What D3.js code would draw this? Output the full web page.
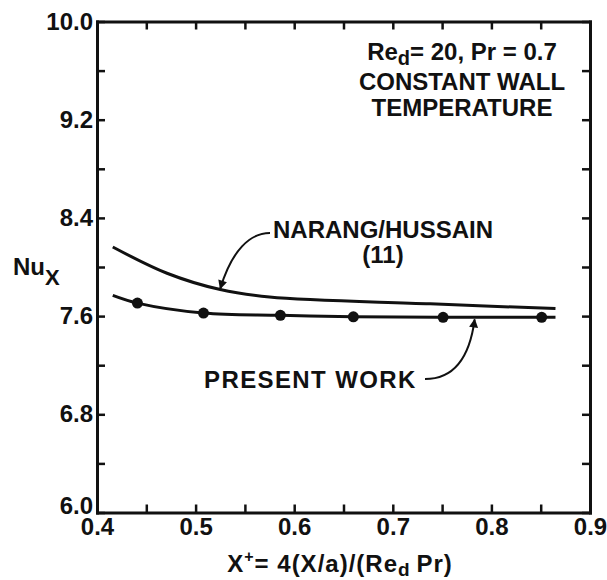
<!DOCTYPE html>
<html>
<head>
<meta charset="utf-8">
<script src="https://cdn.jsdelivr.net/npm/d3@7"></script>
<style>
  body { margin: 0; background: #fff; }
  svg text { font-family: "Liberation Sans", Arial, Helvetica, sans-serif; font-weight: bold; fill: #111; }
</style>
</head>
<body>
<div id="chart"></div>
<script>
// data
let narangX = [0.416, 0.471, 0.525, 0.575, 0.738, 0.865];
let narangY = [8.163, 7.949, 7.816, 7.755, 7.700, 7.661];

let presentX = [0.416, 0.441, 0.508, 0.586, 0.660, 0.751, 0.851, 0.865];
let presentY = [7.769, 7.706, 7.625, 7.606, 7.594, 7.590, 7.590, 7.590];

let dotX = [0.441, 0.508, 0.586, 0.660, 0.751, 0.851];
let dotY = [7.706, 7.625, 7.606, 7.594, 7.590, 7.590];

let xMajor = [0.4, 0.5, 0.6, 0.7, 0.8, 0.9];
let xMinor = [0.45, 0.55, 0.65, 0.75, 0.85];
let yMajor = [6.0, 6.8, 7.6, 8.4, 9.2, 10.0];
let yMinor = [6.4, 7.2, 8.0, 8.8, 9.6];

let width = 607;
let height = 580;
let margin = { top: 21.5, right: 17, bottom: 67.5, left: 97 };
let tick = 8;

let svg = d3
  .select("#chart")
  .append("svg")
  .attr("width", width)
  .attr("height", height);

let xScale = d3
  .scaleLinear()
  .domain([0.4, 0.9])
  .range([margin.left, width - margin.right]);
let yScale = d3
  .scaleLinear()
  .domain([6.0, 10.0])
  .range([height - margin.bottom, margin.top]);

// axes, ticks pointing inward
function styleAxis(g) {
  g.select(".domain").attr("stroke", "#111").attr("stroke-width", 3);
  g.selectAll(".tick line").attr("stroke", "#111").attr("stroke-width", 2.5);
  g.selectAll(".tick text").attr("font-size", 24).attr("fill", "#111");
}

let xAxisBot = svg.append("g")
  .attr("transform", "translate(0," + yScale(6.0) + ")")
  .call(d3.axisBottom(xScale).tickValues(xMajor.concat(xMinor))
    .tickFormat(function (d) { return xMajor.indexOf(d) >= 0 ? d.toFixed(1) : ""; })
    .tickSize(-tick).tickSizeOuter(0).tickPadding(5));
xAxisBot.call(styleAxis);

let yAxisLeft = svg.append("g")
  .attr("transform", "translate(" + xScale(0.4) + ",0)")
  .call(d3.axisLeft(yScale).tickValues(yMajor.concat(yMinor))
    .tickFormat(function (d) { return yMajor.indexOf(d) >= 0 ? d.toFixed(1) : ""; })
    .tickSize(-tick).tickSizeOuter(0).tickPadding(4));
yAxisLeft.call(styleAxis);
// the lowest label sits a little above its tick, clear of "0.4"
yAxisLeft.selectAll(".tick text")
  .filter(function (d) { return d === 6.0; })
  .attr("dy", "0.05em");

let xAxisTop = svg.append("g")
  .attr("transform", "translate(0," + yScale(10.0) + ")")
  .call(d3.axisTop(xScale).tickValues(xMajor.concat(xMinor))
    .tickFormat("").tickSize(-tick).tickSizeOuter(0));
xAxisTop.call(styleAxis);

let yAxisRight = svg.append("g")
  .attr("transform", "translate(" + xScale(0.9) + ",0)")
  .call(d3.axisRight(yScale).tickValues(yMajor.concat(yMinor))
    .tickFormat("").tickSize(-tick).tickSizeOuter(0));
yAxisRight.call(styleAxis);

svg.selectAll(".domain").attr("stroke-linecap", "square");
svg.selectAll("g").attr("font-family", null);

// curves
let line = d3.line()
  .x(function (d) { return xScale(d[0]); })
  .y(function (d) { return yScale(d[1]); })
  .curve(d3.curveCatmullRom);

svg.append("path")
  .datum(d3.zip(narangX, narangY))
  .attr("d", line)
  .attr("fill", "none")
  .attr("stroke", "#111")
  .attr("stroke-width", 3);

svg.append("path")
  .datum(d3.zip(presentX, presentY))
  .attr("d", line)
  .attr("fill", "none")
  .attr("stroke", "#111")
  .attr("stroke-width", 3);

svg.selectAll(".dot")
  .data(d3.zip(dotX, dotY))
  .enter()
  .append("circle")
  .attr("class", "dot")
  .attr("cx", function (d) { return xScale(d[0]); })
  .attr("cy", function (d) { return yScale(d[1]); })
  .attr("r", 5.5)
  .attr("fill", "#111");

// condition text
let cond = svg.append("text")
  .attr("x", 462)
  .attr("y", 60)
  .attr("text-anchor", "middle")
  .attr("font-size", 24);
cond.append("tspan").text("Re");
cond.append("tspan").attr("font-size", 20).attr("dy", 5).text("d");
cond.append("tspan").attr("dy", -5).text("= 20, Pr = 0.7");

svg.append("text")
  .attr("x", 462).attr("y", 90)
  .attr("text-anchor", "middle").attr("font-size", 24)
  .text("CONSTANT WALL");
svg.append("text")
  .attr("x", 462).attr("y", 116)
  .attr("text-anchor", "middle").attr("font-size", 24)
  .text("TEMPERATURE");

// axis titles
let nu = svg.append("text")
  .attr("x", 13).attr("y", 275)
  .attr("font-size", 24);
nu.append("tspan").text("Nu");
nu.append("tspan").attr("font-size", 22).attr("dy", 10).text("X");

let xt = svg.append("text")
  .attr("x", 340).attr("y", 572)
  .attr("text-anchor", "middle")
  .attr("font-size", 24)
  .attr("letter-spacing", 1);
xt.append("tspan").text("X");
xt.append("tspan").attr("font-size", 16).attr("dy", -10).text("+");
xt.append("tspan").attr("dy", 10).text("= 4(X/a)/(Re");
xt.append("tspan").attr("font-size", 19).attr("dy", 4).text("d");
xt.append("tspan").attr("dy", -4).text("\u2009Pr)");

// annotations
svg.append("defs").append("marker")
  .attr("id", "head")
  .attr("viewBox", "0 0 10 10")
  .attr("refX", 9).attr("refY", 5)
  .attr("markerWidth", 15).attr("markerHeight", 9)
  .attr("markerUnits", "userSpaceOnUse")
  .attr("orient", "auto")
  .append("path")
  .attr("d", "M0,0 L10,5 L0,10 Z")
  .attr("fill", "#111");

svg.append("text")
  .attr("x", 383).attr("y", 238)
  .attr("text-anchor", "middle").attr("font-size", 24)
  .text("NARANG/HUSSAIN");
svg.append("text")
  .attr("x", 383).attr("y", 263)
  .attr("text-anchor", "middle").attr("font-size", 24)
  .text("(11)");

let nTip = [xScale(0.525), yScale(7.816) - 1];
svg.append("path")
  .attr("d", "M270,233 C250,233 232,250 " + nTip[0] + "," + nTip[1])
  .attr("fill", "none")
  .attr("stroke", "#111")
  .attr("stroke-width", 2)
  .attr("marker-end", "url(#head)");

svg.append("text")
  .attr("x", 204).attr("y", 388)
  .attr("font-size", 24)
  .attr("letter-spacing", 1.4)
  .text("PRESENT WORK");

let pTip = [xScale(0.783), yScale(7.59) + 2];
svg.append("path")
  .attr("d", "M425,379 C455,379 470,355 " + pTip[0] + "," + pTip[1])
  .attr("fill", "none")
  .attr("stroke", "#111")
  .attr("stroke-width", 2)
  .attr("marker-end", "url(#head)");
</script>
</body>
</html>
